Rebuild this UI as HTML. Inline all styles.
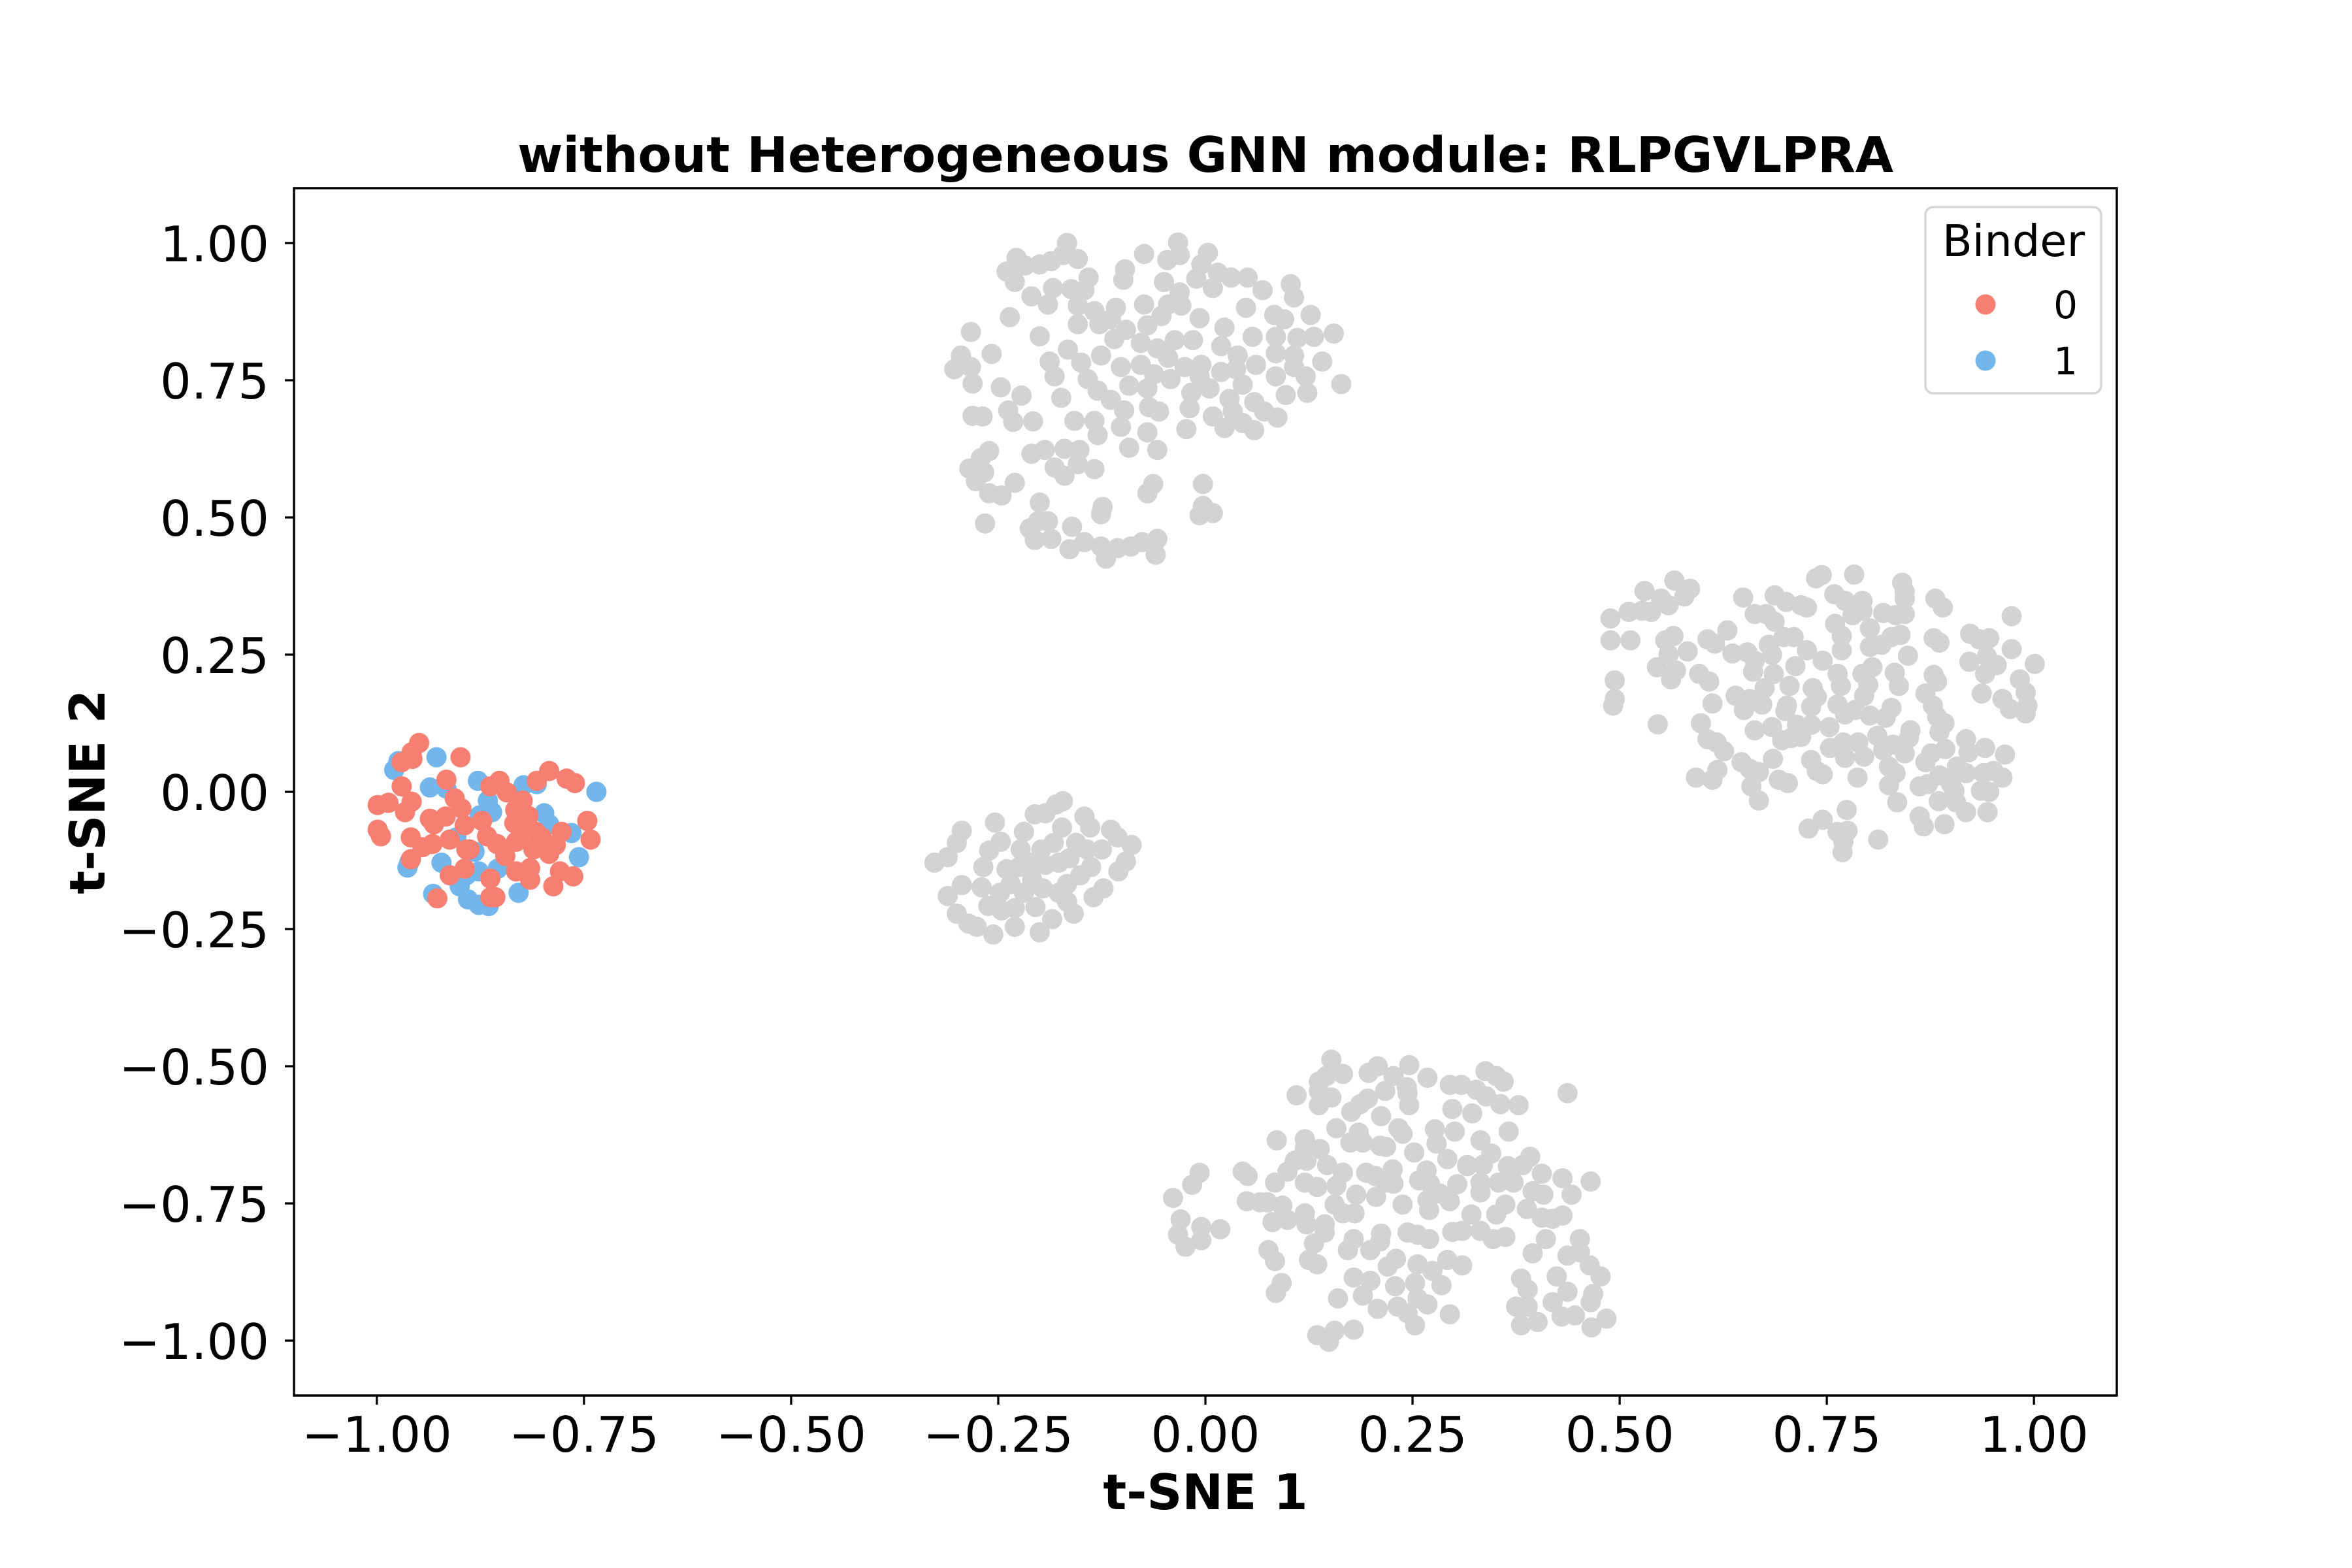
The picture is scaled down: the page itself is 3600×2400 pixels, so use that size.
<!DOCTYPE html>
<html>
<head>
<meta charset="utf-8">
<style>
html,body{margin:0;padding:0;background:#fff;}
svg{display:block;}
text{font-family:"DejaVu Sans","Liberation Sans",sans-serif;fill:#000;}
</style>
</head>
<body>
<svg id="chart" width="3600" height="2400" viewBox="0 0 3600 2400" xmlns="http://www.w3.org/2000/svg">
  <rect x="0" y="0" width="3600" height="2400" fill="#fff"/>
  <text x="1845" y="263" font-size="75" font-weight="bold" text-anchor="middle">without Heterogeneous GNN module: RLPGVLPRA</text>
  <g id="points"></g>
  <rect x="450" y="288" width="2790" height="1848" fill="none" stroke="#000" stroke-width="3.5"/>
  <g id="xticks"></g>
  <g id="yticks"></g>
  <text x="1845" y="2310" font-size="75" font-weight="bold" text-anchor="middle">t-SNE 1</text>
  <text x="0" y="0" font-size="75" font-weight="bold" text-anchor="middle" transform="translate(160,1212) rotate(-90)">t-SNE 2</text>
  <g>
    <rect x="2947" y="317" width="269" height="285" rx="12" ry="12" fill="#fff" fill-opacity="0.8" stroke="#d5d5d5" stroke-width="3.5"/>
    <text x="3082" y="392" font-size="67" text-anchor="middle">Binder</text>
    <g>
      <circle cx="3039" cy="466" r="15.5" fill="#F67F71"/>
      <text x="3180" y="487" font-size="58" text-anchor="end">0</text>
    </g>
    <g>
      <circle cx="3039" cy="552" r="15.5" fill="#72B6EC"/>
      <text x="3180" y="573" font-size="58" text-anchor="end">1</text>
    </g>
  </g>
</svg>
<script>
const xTickValues = [-1.0, -0.75, -0.5, -0.25, 0.0, 0.25, 0.5, 0.75, 1.0];
const xTickLabels = ["\u22121.00","\u22120.75","\u22120.50","\u22120.25","0.00","0.25","0.50","0.75","1.00"];
const yTickValues = [1.0, 0.75, 0.5, 0.25, 0.0, -0.25, -0.5, -0.75, -1.0];
const yTickLabels = ["1.00","0.75","0.50","0.25","0.00","\u22120.25","\u22120.50","\u22120.75","\u22121.00"];

const grayTop = [[-0.167,1.0],[-0.228,0.973],[-0.24,0.948],[-0.23,0.929],[-0.218,0.959],[-0.2,0.961],[-0.186,0.967],[-0.172,0.978],[-0.154,0.971],[-0.141,0.937],[-0.184,0.918],[-0.162,0.916],[-0.146,0.914],[-0.21,0.903],[-0.19,0.888],[-0.236,0.865],[-0.154,0.886],[-0.134,0.876],[-0.154,0.852],[-0.128,0.852],[-0.114,0.861],[-0.108,0.882],[-0.097,0.952],[-0.099,0.933],[-0.074,0.98],[-0.033,1.001],[-0.031,0.978],[-0.046,0.969],[-0.05,0.929],[-0.031,0.91],[-0.029,0.886],[-0.045,0.888],[-0.074,0.888],[-0.053,0.867],[-0.07,0.85],[0.003,0.982],[-0.005,0.961],[-0.011,0.935],[0.009,0.918],[0.015,0.946],[0.031,0.937],[0.051,0.937],[0.069,0.914],[-0.007,0.863],[0.049,0.882],[0.103,0.925],[0.107,0.901],[0.083,0.869],[0.095,0.861],[0.127,0.869],[0.023,0.846],[0.057,0.829],[0.085,0.829],[0.111,0.827],[0.131,0.829],[0.155,0.835],[-0.283,0.838],[-0.295,0.795],[-0.303,0.77],[-0.283,0.774],[-0.281,0.744],[-0.258,0.798],[-0.2,0.83],[-0.166,0.806],[-0.188,0.784],[-0.15,0.782],[-0.182,0.757],[-0.174,0.718],[-0.247,0.737],[-0.222,0.722],[-0.238,0.695],[-0.281,0.685],[-0.269,0.684],[-0.232,0.674],[-0.208,0.675],[-0.142,0.752],[-0.126,0.795],[-0.11,0.825],[-0.096,0.842],[-0.13,0.731],[-0.114,0.714],[-0.098,0.695],[-0.092,0.74],[-0.102,0.774],[-0.078,0.778],[-0.078,0.818],[-0.058,0.808],[-0.037,0.823],[-0.015,0.823],[-0.045,0.791],[-0.062,0.761],[-0.042,0.752],[-0.07,0.735],[-0.025,0.774],[-0.005,0.778],[-0.017,0.727],[-0.007,0.757],[0.005,0.735],[0.019,0.812],[0.039,0.795],[0.019,0.765],[0.037,0.77],[0.045,0.742],[0.061,0.778],[0.085,0.757],[0.085,0.799],[0.107,0.795],[0.107,0.774],[0.121,0.757],[0.141,0.784],[0.164,0.743],[0.097,0.723],[0.123,0.727],[0.029,0.716],[0.059,0.71],[0.033,0.693],[0.071,0.693],[0.087,0.682],[0.045,0.672],[0.023,0.663],[0.009,0.684],[0.059,0.659],[-0.019,0.699],[-0.068,0.701],[-0.056,0.693],[-0.07,0.655],[-0.102,0.665],[-0.023,0.661],[-0.13,0.65],[-0.158,0.676],[-0.134,0.676],[-0.092,0.627],[-0.058,0.623],[-0.261,0.621],[-0.271,0.608],[-0.285,0.589],[-0.267,0.582],[-0.277,0.566],[-0.261,0.544],[-0.246,0.54],[-0.23,0.563],[-0.21,0.616],[-0.194,0.623],[-0.17,0.625],[-0.152,0.623],[-0.182,0.591],[-0.17,0.576],[-0.154,0.597],[-0.134,0.588],[-0.063,0.561],[-0.07,0.544],[-0.003,0.561],[-0.003,0.521],[0.009,0.508],[-0.007,0.504],[-0.124,0.519],[-0.126,0.506],[-0.266,0.489],[-0.2,0.527],[-0.202,0.493],[-0.212,0.48],[-0.19,0.493],[-0.206,0.459],[-0.186,0.461],[-0.161,0.483],[-0.164,0.442],[-0.146,0.455],[-0.126,0.447],[-0.12,0.425],[-0.106,0.444],[-0.09,0.447],[-0.076,0.455],[-0.058,0.461],[-0.06,0.432]];

const grayRight = [[0.489,0.316],[0.489,0.276],[0.513,0.276],[0.511,0.328],[0.53,0.366],[0.527,0.33],[0.538,0.328],[0.55,0.352],[0.559,0.34],[0.566,0.385],[0.578,0.356],[0.585,0.37],[0.555,0.276],[0.565,0.284],[0.559,0.25],[0.582,0.256],[0.545,0.227],[0.568,0.221],[0.562,0.205],[0.494,0.203],[0.494,0.169],[0.492,0.157],[0.546,0.123],[0.596,0.215],[0.608,0.201],[0.612,0.161],[0.598,0.125],[0.606,0.096],[0.617,0.09],[0.626,0.074],[0.606,0.278],[0.615,0.27],[0.63,0.294],[0.636,0.252],[0.649,0.354],[0.663,0.324],[0.677,0.324],[0.687,0.358],[0.687,0.31],[0.701,0.346],[0.719,0.34],[0.726,0.336],[0.654,0.254],[0.663,0.239],[0.661,0.219],[0.675,0.189],[0.686,0.215],[0.64,0.175],[0.657,0.169],[0.672,0.159],[0.65,0.149],[0.68,0.268],[0.684,0.25],[0.698,0.282],[0.71,0.282],[0.726,0.258],[0.712,0.229],[0.705,0.193],[0.702,0.157],[0.7,0.147],[0.733,0.189],[0.738,0.173],[0.731,0.155],[0.663,0.112],[0.684,0.118],[0.696,0.094],[0.707,0.098],[0.719,0.1],[0.714,0.122],[0.731,0.122],[0.745,0.239],[0.763,0.215],[0.767,0.193],[0.737,0.389],[0.744,0.395],[0.783,0.396],[0.759,0.36],[0.772,0.348],[0.793,0.348],[0.793,0.33],[0.781,0.322],[0.76,0.306],[0.768,0.284],[0.768,0.258],[0.841,0.381],[0.844,0.364],[0.844,0.352],[0.844,0.324],[0.818,0.326],[0.833,0.322],[0.802,0.298],[0.802,0.264],[0.816,0.268],[0.828,0.282],[0.839,0.286],[0.848,0.248],[0.805,0.227],[0.793,0.215],[0.8,0.195],[0.795,0.175],[0.832,0.217],[0.837,0.193],[0.763,0.159],[0.772,0.141],[0.784,0.149],[0.802,0.139],[0.828,0.153],[0.821,0.135],[0.753,0.118],[0.77,0.09],[0.754,0.08],[0.772,0.062],[0.788,0.09],[0.795,0.064],[0.811,0.102],[0.818,0.076],[0.83,0.086],[0.851,0.112],[0.849,0.098],[0.844,0.07],[0.731,0.058],[0.738,0.038],[0.745,0.032],[0.787,0.026],[0.825,0.046],[0.833,0.034],[0.825,0.012],[0.835,-0.019],[0.647,0.054],[0.657,0.042],[0.668,0.036],[0.659,0.01],[0.668,-0.016],[0.685,0.06],[0.692,0.022],[0.703,0.016],[0.592,0.026],[0.618,0.04],[0.612,0.022],[0.881,0.352],[0.89,0.336],[0.879,0.28],[0.886,0.272],[0.879,0.213],[0.883,0.201],[0.869,0.179],[0.878,0.157],[0.883,0.137],[0.892,0.125],[0.886,0.109],[0.893,0.078],[0.876,0.07],[0.869,0.054],[0.886,0.03],[0.862,0.01],[0.872,0.014],[0.9,0.014],[0.904,0.002],[0.885,-0.017],[0.906,-0.019],[0.918,-0.037],[0.936,0.002],[0.946,0.0],[0.944,-0.037],[0.918,0.096],[0.921,0.072],[0.941,0.08],[0.965,0.068],[0.907,0.046],[0.918,0.034],[0.939,0.034],[0.951,0.038],[0.962,0.026],[0.923,0.288],[0.934,0.278],[0.946,0.28],[0.973,0.32],[0.973,0.26],[0.922,0.237],[0.943,0.247],[0.955,0.231],[0.941,0.215],[0.937,0.179],[0.983,0.205],[1.001,0.233],[0.962,0.169],[0.971,0.151],[0.99,0.181],[0.992,0.157],[0.99,0.143],[0.862,-0.045],[0.867,-0.063],[0.892,-0.059],[0.728,-0.067],[0.745,-0.051],[0.763,-0.073],[0.774,-0.033],[0.775,-0.071],[0.77,-0.091],[0.769,-0.11],[0.812,-0.087]];

const grayBottom = [[0.152,-0.488],[0.166,-0.514],[0.146,-0.518],[0.137,-0.528],[0.137,-0.545],[0.152,-0.557],[0.137,-0.571],[0.11,-0.553],[0.197,-0.512],[0.208,-0.5],[0.227,-0.518],[0.217,-0.545],[0.243,-0.538],[0.246,-0.498],[0.244,-0.549],[0.246,-0.571],[0.268,-0.521],[0.196,-0.559],[0.176,-0.583],[0.187,-0.569],[0.212,-0.591],[0.238,-0.623],[0.233,-0.613],[0.158,-0.613],[0.185,-0.621],[0.175,-0.639],[0.19,-0.639],[0.211,-0.645],[0.218,-0.647],[0.295,-0.534],[0.309,-0.534],[0.327,-0.543],[0.338,-0.509],[0.351,-0.518],[0.36,-0.528],[0.339,-0.555],[0.356,-0.569],[0.378,-0.571],[0.298,-0.578],[0.322,-0.586],[0.277,-0.615],[0.301,-0.619],[0.366,-0.619],[0.279,-0.641],[0.332,-0.635],[0.345,-0.659],[0.252,-0.657],[0.292,-0.669],[0.316,-0.68],[0.335,-0.68],[0.437,-0.549],[0.086,-0.635],[0.12,-0.633],[0.12,-0.649],[0.138,-0.651],[0.108,-0.672],[0.122,-0.672],[0.147,-0.68],[0.099,-0.692],[0.084,-0.712],[0.12,-0.712],[0.135,-0.72],[0.158,-0.718],[0.166,-0.694],[0.182,-0.734],[0.194,-0.694],[0.205,-0.7],[0.226,-0.688],[0.227,-0.714],[0.217,-0.712],[0.206,-0.738],[0.238,-0.752],[0.258,-0.708],[0.267,-0.69],[0.271,-0.714],[0.283,-0.732],[0.295,-0.746],[0.268,-0.744],[0.27,-0.762],[0.304,-0.715],[0.316,-0.682],[0.332,-0.712],[0.332,-0.73],[0.354,-0.712],[0.365,-0.682],[0.372,-0.712],[0.392,-0.665],[0.383,-0.68],[0.406,-0.696],[0.395,-0.728],[0.408,-0.734],[0.431,-0.704],[0.442,-0.734],[0.465,-0.71],[0.362,-0.752],[0.351,-0.77],[0.388,-0.76],[0.406,-0.776],[0.419,-0.778],[0.431,-0.772],[0.321,-0.77],[0.332,-0.8],[0.347,-0.815],[0.362,-0.811],[0.31,-0.8],[0.298,-0.802],[0.244,-0.803],[0.256,-0.807],[0.27,-0.815],[0.411,-0.815],[0.395,-0.841],[0.075,-0.748],[0.093,-0.754],[0.099,-0.78],[0.081,-0.784],[0.12,-0.768],[0.122,-0.788],[0.144,-0.788],[0.156,-0.752],[0.166,-0.768],[0.18,-0.768],[0.144,-0.803],[0.131,-0.823],[0.125,-0.853],[0.135,-0.861],[0.076,-0.835],[0.084,-0.855],[0.172,-0.835],[0.179,-0.815],[0.199,-0.835],[0.212,-0.805],[0.211,-0.819],[0.22,-0.865],[0.23,-0.851],[0.256,-0.861],[0.274,-0.873],[0.292,-0.853],[0.31,-0.863],[0.285,-0.899],[0.179,-0.885],[0.199,-0.891],[0.19,-0.918],[0.229,-0.901],[0.253,-0.895],[0.256,-0.923],[0.268,-0.934],[0.16,-0.923],[0.092,-0.895],[0.085,-0.913],[0.208,-0.942],[0.232,-0.938],[0.244,-0.95],[0.253,-0.972],[0.295,-0.952],[0.135,-0.99],[0.149,-1.002],[0.156,-0.982],[0.179,-0.98],[0.381,-0.887],[0.389,-0.907],[0.375,-0.938],[0.389,-0.938],[0.381,-0.972],[0.401,-0.966],[0.424,-0.883],[0.419,-0.93],[0.43,-0.956],[0.437,-0.845],[0.452,-0.815],[0.452,-0.839],[0.464,-0.863],[0.477,-0.883],[0.437,-0.911],[0.468,-0.915],[0.465,-0.93],[0.446,-0.954],[0.466,-0.976],[0.484,-0.96],[-0.007,-0.694],[-0.016,-0.716],[-0.039,-0.74],[-0.03,-0.779],[-0.033,-0.807],[-0.024,-0.829],[-0.005,-0.793],[-0.005,-0.817],[0.018,-0.797],[0.045,-0.692],[0.051,-0.7],[0.05,-0.746],[0.066,-0.748]];

const grayMid = [[-0.327,-0.129],[-0.311,-0.119],[-0.3,-0.093],[-0.294,-0.071],[-0.254,-0.056],[-0.247,-0.091],[-0.261,-0.107],[-0.268,-0.137],[-0.311,-0.19],[-0.294,-0.17],[-0.3,-0.222],[-0.286,-0.24],[-0.276,-0.246],[-0.256,-0.26],[-0.27,-0.174],[-0.262,-0.208],[-0.246,-0.216],[-0.23,-0.246],[-0.23,-0.212],[-0.24,-0.141],[-0.235,-0.168],[-0.223,-0.105],[-0.219,-0.073],[-0.206,-0.041],[-0.193,-0.039],[-0.18,-0.023],[-0.172,-0.017],[-0.212,-0.129],[-0.209,-0.16],[-0.219,-0.184],[-0.205,-0.21],[-0.185,-0.232],[-0.2,-0.256],[-0.173,-0.065],[-0.183,-0.093],[-0.198,-0.105],[-0.193,-0.133],[-0.177,-0.129],[-0.164,-0.121],[-0.156,-0.093],[-0.167,-0.168],[-0.177,-0.184],[-0.167,-0.2],[-0.159,-0.222],[-0.146,-0.045],[-0.139,-0.065],[-0.143,-0.105],[-0.138,-0.137],[-0.151,-0.152],[-0.125,-0.105],[-0.114,-0.069],[-0.106,-0.083],[-0.089,-0.097],[-0.096,-0.127],[-0.105,-0.145],[-0.135,-0.192],[-0.123,-0.176],[-0.225,-0.137],[-0.248,-0.184],[-0.196,-0.176]];

const binder1 = [[-0.974,0.056],[-0.979,0.04],[-0.928,0.063],[-0.936,0.008],[-0.916,0.006],[-0.878,0.02],[-0.866,-0.016],[-0.861,-0.037],[-0.876,-0.043],[-0.823,0.012],[-0.807,0.014],[-0.798,-0.039],[-0.792,-0.059],[-0.765,-0.075],[-0.735,0.0],[-0.756,-0.119],[-0.963,-0.138],[-0.961,-0.129],[-0.922,-0.129],[-0.882,-0.109],[-0.904,-0.083],[-0.932,-0.186],[-0.9,-0.172],[-0.89,-0.196],[-0.877,-0.206],[-0.865,-0.208],[-0.877,-0.145],[-0.854,-0.14],[-0.829,-0.184],[-0.892,-0.152]];

const binder0 = [[-0.949,0.089],[-0.958,0.072],[-0.957,0.06],[-0.97,0.054],[-0.899,0.063],[-0.97,0.01],[-0.999,-0.024],[-0.986,-0.02],[-0.958,-0.018],[-0.966,-0.037],[-0.916,0.022],[-0.906,-0.012],[-0.898,-0.03],[-0.936,-0.049],[-0.931,-0.059],[-0.917,-0.045],[-0.894,-0.061],[-0.999,-0.069],[-0.995,-0.081],[-0.959,-0.083],[-0.945,-0.101],[-0.933,-0.095],[-0.912,-0.087],[-0.959,-0.123],[-0.892,-0.105],[-0.888,-0.105],[-0.912,-0.152],[-0.894,-0.14],[-0.927,-0.194],[-0.863,-0.158],[-0.863,-0.192],[-0.857,-0.192],[-0.873,-0.053],[-0.867,-0.081],[-0.855,-0.095],[-0.845,-0.117],[-0.863,0.01],[-0.852,0.02],[-0.843,-0.001],[-0.824,-0.016],[-0.833,-0.033],[-0.817,-0.044],[-0.834,-0.057],[-0.826,-0.077],[-0.832,-0.091],[-0.816,-0.065],[-0.808,-0.073],[-0.801,-0.083],[-0.811,-0.105],[-0.792,-0.113],[-0.784,-0.097],[-0.832,-0.145],[-0.815,-0.139],[-0.815,-0.16],[-0.787,-0.172],[-0.779,-0.145],[-0.763,-0.154],[-0.807,0.02],[-0.792,0.038],[-0.771,0.024],[-0.761,0.016],[-0.777,-0.073],[-0.746,-0.053],[-0.742,-0.087]];

const NS = "http://www.w3.org/2000/svg";
const xScale = v => 1845 + v * 1268.2;
const yScale = v => 1212 - v * 840;
const R = 15.5;

const pts = document.getElementById('points');
function drawSeries(data, color, name) {
  const g = document.createElementNS(NS, 'g');
  
  
  g.setAttribute('fill', color);
  data.forEach(p => {
    const c = document.createElementNS(NS, 'circle');
    
    
    c.setAttribute('cx', xScale(p[0]).toFixed(1));
    c.setAttribute('cy', yScale(p[1]).toFixed(1));
    c.setAttribute('r', R);
    g.appendChild(c);
  });
  pts.appendChild(g);
}
drawSeries(grayTop, '#D3D3D3', 'unlabeled-cluster-top');
drawSeries(grayRight, '#D3D3D3', 'unlabeled-cluster-right');
drawSeries(grayBottom, '#D3D3D3', 'unlabeled-cluster-bottom');
drawSeries(grayMid, '#D3D3D3', 'unlabeled-cluster-middle');
drawSeries(binder1, '#72B6EC', 'binder-1-points');
drawSeries(binder0, '#F67F71', 'binder-0-points');

const xt = document.getElementById('xticks');
xTickValues.forEach((v, i) => {
  const x = xScale(v);
  const l = document.createElementNS(NS, 'line');
  
  
  l.setAttribute('x1', x); l.setAttribute('x2', x);
  l.setAttribute('y1', 2136); l.setAttribute('y2', 2150);
  l.setAttribute('stroke', '#000'); l.setAttribute('stroke-width', '3.3');
  xt.appendChild(l);
  const t = document.createElementNS(NS, 'text');
  
  
  t.setAttribute('x', x); t.setAttribute('y', 2222);
  t.setAttribute('font-size', '75'); t.setAttribute('text-anchor', 'middle');
  t.textContent = xTickLabels[i];
  xt.appendChild(t);
});
const yt = document.getElementById('yticks');
yTickValues.forEach((v, i) => {
  const y = yScale(v);
  const l = document.createElementNS(NS, 'line');
  
  
  l.setAttribute('x1', 436); l.setAttribute('x2', 450);
  l.setAttribute('y1', y); l.setAttribute('y2', y);
  l.setAttribute('stroke', '#000'); l.setAttribute('stroke-width', '3.3');
  yt.appendChild(l);
  const t = document.createElementNS(NS, 'text');
  
  
  t.setAttribute('x', 412); t.setAttribute('y', y + 28);
  t.setAttribute('font-size', '75'); t.setAttribute('text-anchor', 'end');
  t.textContent = yTickLabels[i];
  yt.appendChild(t);
});
</script>
</body>
</html>
